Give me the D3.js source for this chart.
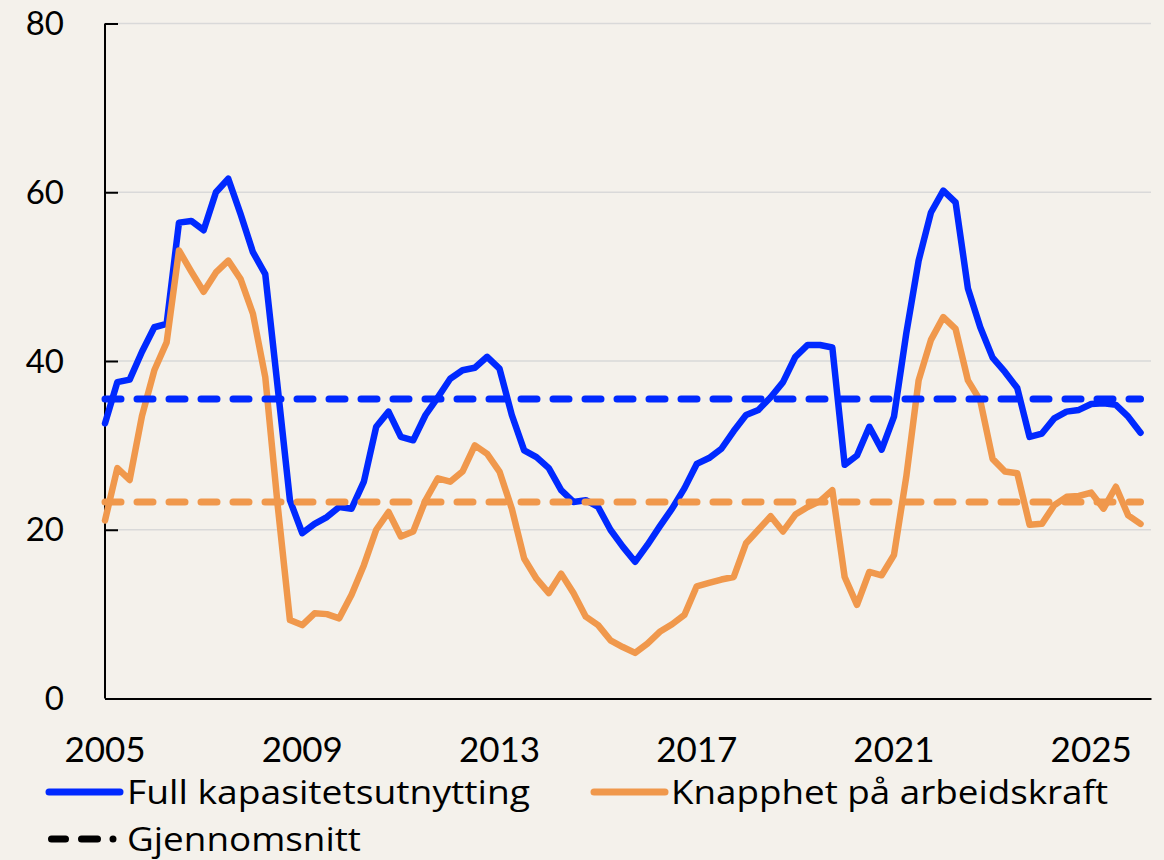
<!DOCTYPE html>
<html>
<head>
<meta charset="utf-8">
<script src="https://cdn.jsdelivr.net/npm/d3@7"></script>
<style>
  html, body { margin: 0; padding: 0; background: #F4F1EB; }
  svg { display: block; }
  text { font-family: Lato, "Noto Sans", sans-serif; fill: #000; }
  .leg { font-family: "Open Sans", Lato, sans-serif; }
</style>
</head>
<body>
<script>
// Quarterly data, 2005 Q1 – 2026 Q1
const startYear = 2005;
const fullCapacity = [
  32.6, 37.5, 37.8, 41.1, 44.0, 44.4, 56.4, 56.6, 55.5, 60.0,
  61.6, 57.4, 52.9, 50.3, 37.0, 23.5, 19.6, 20.7, 21.5, 22.7,
  22.5, 25.7, 32.2, 34.0, 31.0, 30.6, 33.6, 35.7, 37.9, 38.9,
  39.2, 40.5, 39.1, 33.6, 29.4, 28.6, 27.3, 24.7, 23.3, 23.5,
  22.7, 20.0, 18.0, 16.2, 18.2, 20.4, 22.5, 24.9, 27.8, 28.5,
  29.6, 31.7, 33.6, 34.2, 35.7, 37.5, 40.5, 41.9, 41.9, 41.6,
  27.7, 28.8, 32.2, 29.5, 33.4, 43.3, 51.9, 57.6, 60.2, 58.8,
  48.6, 44.0, 40.4, 38.7, 36.8, 31.0, 31.4, 33.2, 34.0, 34.2,
  34.9, 35.0, 34.8, 33.4, 31.5
];
const labourShortage = [
  21.1, 27.3, 25.9, 33.5, 38.9, 42.2, 53.1, 50.6, 48.2, 50.5,
  51.9, 49.7, 45.6, 38.1, 23.0, 9.3, 8.7, 10.1, 10.0, 9.5,
  12.3, 15.8, 20.0, 22.1, 19.2, 19.8, 23.5, 26.1, 25.7, 26.9,
  30.0, 29.0, 26.9, 22.5, 16.6, 14.2, 12.5, 14.8, 12.5, 9.7,
  8.7, 6.9, 6.1, 5.4, 6.5, 7.9, 8.8, 9.9, 13.3, 13.7,
  14.1, 14.4, 18.4, 20.0, 21.6, 19.8, 21.8, 22.7, 23.4, 24.7,
  14.4, 11.1, 15.0, 14.6, 17.0, 26.3, 37.7, 42.5, 45.2, 43.8,
  37.7, 35.3, 28.4, 26.9, 26.7, 20.6, 20.7, 22.9, 23.9, 24.0,
  24.4, 22.5, 25.1, 21.7, 20.7
];
const meanFull = 35.5;
const meanLabour = 23.3;
const yTicks = [0, 20, 40, 60, 80];
const xTickLabels = ["2005", "2009", "2013", "2017", "2021", "2025"];
const seriesNames = ["Full kapasitetsutnytting", "Knapphet på arbeidskraft", "Gjennomsnitt"];

const W = 1164, H = 860;
const blue = "#0029FF", orange = "#F0984C";

const svg = d3.select("body").append("svg").attr("width", W).attr("height", H);
svg.append("rect").attr("width", W).attr("height", H).attr("fill", "#F4F1EB");

const n = fullCapacity.length;
const x = d3.scaleLinear().domain([0, 84.85]).range([105, 1151]);
const y = d3.scaleLinear().domain([0, 80]).range([698.5, 23.5]);

// gridlines
svg.append("g").selectAll("line").data(yTicks.filter(d => d > 0)).join("line")
  .attr("x1", x(0)).attr("x2", x.range()[1])
  .attr("y1", d => y(d)).attr("y2", d => y(d))
  .attr("stroke", "#D9D9D9").attr("stroke-width", 1.5);

// y axis
const yAxis = svg.append("g").attr("transform", `translate(${x(0)},0)`)
  .call(d3.axisRight(y).tickValues(yTicks).tickSize(13).tickFormat(""));
yAxis.select(".domain").attr("stroke", "#000").attr("stroke-width", 2).attr("d", `M0,${y(80)}V${y(0)}`);
yAxis.selectAll(".tick line").attr("stroke", "#000").attr("stroke-width", 2);
svg.append("g").selectAll("text").data(yTicks).join("text")
  .attr("x", 64).attr("y", d => y(d)).attr("dy", "0.35em")
  .attr("text-anchor", "end").attr("font-size", 33).text(d => d);

// x axis
const xAxis = svg.append("g").attr("transform", `translate(0,${y(0)})`)
  .call(d3.axisBottom(x).tickValues([]).tickSize(0));
xAxis.select(".domain").attr("stroke", "#000").attr("stroke-width", 2);
svg.append("g").selectAll("text").data(xTickLabels).join("text")
  .attr("x", d => x((+d - startYear) * 4)).attr("y", 762)
  .attr("text-anchor", "middle").attr("font-size", 35).text(d => d);

const line = d3.line().x((d, i) => x(i)).y(d => y(d));

svg.append("path").datum(fullCapacity).attr("d", line)
  .attr("fill", "none").attr("stroke", blue).attr("stroke-width", 6.5)
  .attr("stroke-linejoin", "round").attr("stroke-linecap", "round");
svg.append("path").datum(labourShortage).attr("d", line)
  .attr("fill", "none").attr("stroke", orange).attr("stroke-width", 6.5)
  .attr("stroke-linejoin", "round").attr("stroke-linecap", "round");

const meanLine = (v, c) => svg.append("line")
  .attr("x1", x(0)).attr("x2", x(n - 1)).attr("y1", y(v)).attr("y2", y(v))
  .attr("stroke", c).attr("stroke-width", 7).attr("stroke-linecap", "round")
  .attr("stroke-dasharray", "16 16");
meanLine(meanFull, blue);
meanLine(meanLabour, orange);

// legend
const lg = svg.append("g");
lg.append("line").attr("x1", 49).attr("x2", 120).attr("y1", 792).attr("y2", 792)
  .attr("stroke", blue).attr("stroke-width", 7).attr("stroke-linecap", "round");
lg.append("text").attr("class", "leg").attr("x", 127).attr("y", 792).attr("dy", "0.36em")
  .attr("font-size", 33).attr("textLength", 403).attr("lengthAdjust", "spacingAndGlyphs")
  .text(seriesNames[0]);
lg.append("line").attr("x1", 594).attr("x2", 665).attr("y1", 792).attr("y2", 792)
  .attr("stroke", orange).attr("stroke-width", 7).attr("stroke-linecap", "round");
lg.append("text").attr("class", "leg").attr("x", 671).attr("y", 792).attr("dy", "0.36em")
  .attr("font-size", 33).attr("textLength", 437).attr("lengthAdjust", "spacingAndGlyphs")
  .text(seriesNames[1]);
lg.append("line").attr("x1", 51.5).attr("x2", 114).attr("y1", 839).attr("y2", 839)
  .attr("stroke", "#000").attr("stroke-width", 7).attr("stroke-linecap", "round")
  .attr("stroke-dasharray", "14 16 16 15.5 0 20");
lg.append("text").attr("class", "leg").attr("x", 127).attr("y", 839).attr("dy", "0.36em")
  .attr("font-size", 33).attr("textLength", 234).attr("lengthAdjust", "spacingAndGlyphs")
  .text(seriesNames[2]);
</script>
</body>
</html>
